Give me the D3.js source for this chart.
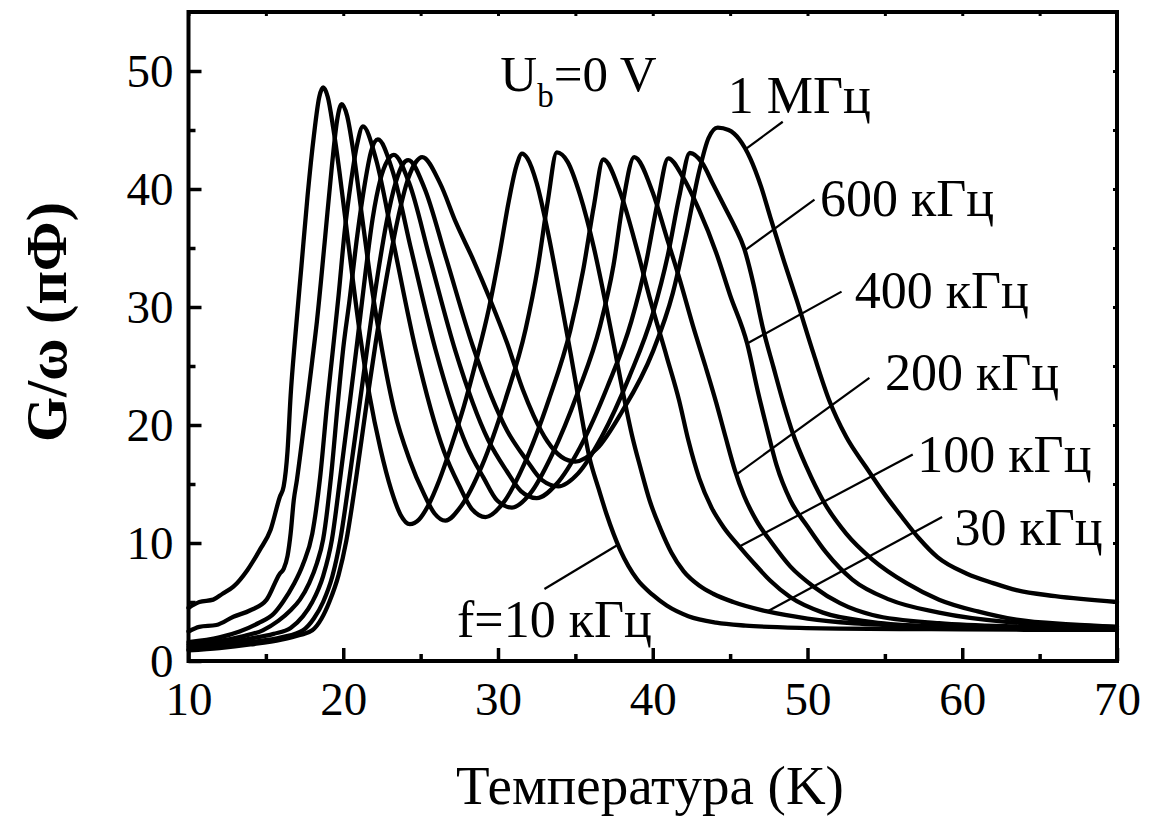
<!DOCTYPE html>
<html><head><meta charset="utf-8">
<script src="https://cdn.jsdelivr.net/npm/d3@7"></script>
<style>body{margin:0;background:#fff}svg{display:block}</style>
</head><body><svg id="c" width="1163" height="822"></svg>
<script>
// ---- data ----
const xDomain = [10, 70];
const yDomain = [0, 55];
const xMajor = [10, 20, 30, 40, 50, 60, 70];
const xMinor = [15, 25, 35, 45, 55, 65];
const yMajor = [0, 10, 20, 30, 40, 50];
const yMinor = [5, 15, 25, 35, 45];

const f10k = [[10,4.5],[10.7,5.0],[11.6,5.2],[12.2,5.7],[12.9,6.3],[13.8,7.7],[14.6,9.4],[15.3,11.1],[15.9,13.9],[16.15,14.8],[16.4,17.8],[16.6,22.5],[16.9,27.5],[17.3,33.5],[17.7,39.5],[18.1,44.5],[18.45,47.8],[18.7,48.6],[19.0,47.8],[19.35,45.2],[19.75,41.5],[20.15,37.3],[20.6,32.5],[21.1,27.5],[21.7,22.5],[22.4,18.0],[23.1,14.5],[23.7,12.4],[24.3,11.6],[24.9,12.0],[25.5,13.2],[26.2,15.3],[27,18.3],[27.8,21.6],[28.6,25.5],[29.4,29.8],[30.1,34.5],[30.7,39],[31.2,42],[31.55,43.0],[31.9,42.6],[32.5,40.5],[33.2,36.5],[34,31],[34.7,26],[35.3,21.5],[35.9,17.3],[36.5,14.6],[37.0,12.5],[37.9,9.4],[39.0,6.9],[40.0,5.6],[40.9,4.7],[42.3,3.8],[44.1,3.25],[46,3.0],[48.4,2.85],[52,2.75],[58,2.7],[64,2.65],[70,2.65]];
const f30k = [[10,2.5],[10.7,2.9],[11.8,3.05],[12.9,3.75],[14,4.3],[15.05,5.2],[15.9,7.4],[16.15,7.8],[16.4,8.9],[16.6,10.8],[16.8,13.6],[17.0,15.3],[17.4,19.3],[17.7,22.3],[18.0,25.5],[18.3,28.8],[18.8,35.5],[19.27,42],[19.6,45.8],[19.9,47.2],[20.25,46.2],[20.65,43.2],[21.2,37.8],[21.8,32.0],[22.5,26.4],[23.3,21.2],[24.3,17.0],[25.2,14.2],[25.9,12.5],[26.6,11.9],[27.6,13.1],[28.98,16.6],[30.49,22.2],[31.78,28.1],[32.58,33.4],[33.22,39.0],[33.8,43.1],[34.5,42.3],[35.3,39.5],[36.2,35],[37.0,30],[37.6,26],[38.1,22.6],[38.7,18.9],[39.2,16.4],[39.8,13.6],[40.5,11.2],[41.2,9.2],[42,7.6],[43,6.4],[43.9,5.7],[45.2,5.0],[47.4,4.2],[50,3.6],[53,3.2],[58,2.95],[64,2.8],[70,2.8]];
const f100k = [[10,1.6],[12,2.0],[13.3,2.5],[14.5,3.2],[15.5,4.0],[16.1,5.0],[16.8,6.5],[17.4,8.2],[18.0,10.8],[18.5,15.5],[18.96,21.8],[19.3,26],[19.7,31],[20.1,36.5],[20.5,40.6],[20.9,43.8],[21.27,45.3],[22.12,42.5],[23.25,35.4],[24.68,26.4],[26.5,17.8],[27.5,14.85],[28.3,12.9],[29.2,12.2],[30.34,13.4],[31.7,16.7],[33.3,22.2],[34.67,28.0],[35.5,33.1],[36.2,38.6],[36.8,42.5],[37.9,39.7],[39.0,34.8],[39.8,30.8],[40.9,25.8],[41.7,22.1],[42.3,18.7],[43.0,15.5],[43.8,13.0],[44.6,11.3],[45.6,9.7],[46.6,8.2],[47.6,6.8],[48.9,5.4],[51,4.1],[54.2,3.3],[58.5,2.9],[64,2.75],[70,2.7]];
const f200k = [[10,1.4],[12,1.7],[13.5,2.1],[14.8,2.6],[15.8,3.4],[16.6,4.3],[17.2,5.2],[17.8,6.6],[18.3,8.3],[18.7,10.3],[19.2,15.5],[19.66,22],[20.0,26.5],[20.4,30.5],[20.9,36],[21.4,40.5],[21.8,43.2],[22.24,44.2],[23.17,41.6],[24.4,34.8],[25.96,26.4],[27.96,18.3],[29.08,15.5],[29.95,13.6],[30.9,13.0],[32.09,14.2],[33.5,17.5],[35.17,22.8],[36.6,28.4],[37.46,33.5],[38.07,38.8],[38.8,42.7],[40.0,39.7],[40.9,35.9],[41.75,32.3],[42.6,28.4],[43.4,25.0],[44.1,21.9],[44.7,19],[45.3,16.2],[45.9,14],[46.7,11.9],[47.7,10],[48.9,8],[50.4,6.3],[52.1,4.9],[54.2,3.9],[58.5,3.2],[64,2.9],[70,2.75]];
const f400k = [[10,1.2],[12,1.5],[14,1.9],[15.5,2.3],[16.6,2.8],[17.4,3.8],[18.0,5.0],[18.7,7.2],[19.27,10.3],[19.8,15.5],[20.43,22],[20.9,27],[21.4,32.5],[21.9,37.5],[22.4,40.8],[22.85,42.4],[23.27,42.9],[24.26,40.5],[25.58,34.2],[27.24,26.3],[29.36,18.75],[30.56,16.1],[31.48,14.4],[32.5,13.8],[33.78,15.0],[35.3,18.1],[37.09,23.3],[38.62,28.8],[39.56,33.7],[40.32,38.9],[41.0,42.6],[41.95,41],[43.0,38.2],[44.1,34.6],[45.0,31.0],[46.1,26.9],[46.8,22.8],[47.4,19.6],[48.0,16.6],[48.9,13.6],[50.0,11.4],[51.2,9.2],[52.9,6.9],[55.3,5.2],[58.5,4.1],[63,3.3],[70,2.9]];
const f600k = [[10,1.0],[12,1.3],[14,1.6],[16,2.0],[17.4,2.6],[18.1,3.6],[18.7,5.0],[19.3,7.2],[19.8,10.2],[20.4,15.5],[21.08,22],[21.6,27],[22.2,32.5],[22.8,37.2],[23.4,40.6],[23.85,42.1],[24.2,42.45],[25.24,40.1],[26.63,34.2],[28.37,26.7],[30.6,19.5],[31.86,17.0],[32.83,15.35],[33.9,14.8],[35.18,15.9],[36.7,19.0],[38.49,24.1],[40.02,29.5],[40.96,34.3],[41.72,39.4],[42.4,43.05],[43.2,42.2],[43.9,40.4],[44.6,38.6],[45.3,36.8],[45.9,35.0],[46.5,32],[47.1,28.3],[47.8,24.9],[48.5,21.6],[49.05,19.3],[49.95,16.4],[51.0,13.6],[52.5,10.8],[54.2,8.6],[56.4,6.6],[58.5,5.2],[61,4.2],[63.5,3.5],[67,3.1],[70,2.9]];
const f1M = [[10,0.9],[12,1.1],[14,1.4],[16,1.8],[17.2,2.2],[18.0,2.6],[18.6,3.6],[19.1,5.0],[19.7,7.3],[20.2,10.2],[20.8,15.2],[21.53,22],[22.1,27],[22.8,32.5],[23.5,37.3],[24.2,40.9],[24.7,42.3],[25.1,42.7],[26.25,40.5],[27.3,37.1],[28.4,34],[29.5,30.6],[30.6,26.9],[31.6,23],[32.3,20.8],[33.2,18.6],[34.1,17.3],[35.0,16.9],[36.4,18.0],[38.0,21.1],[40.0,26.2],[41.3,31.2],[42.2,36.4],[43.0,41.5],[43.6,44.3],[44.2,45.2],[44.9,45.0],[45.6,44.2],[46.3,42.6],[47.0,40.2],[47.6,37.6],[48.5,33.8],[49.3,30.6],[50.4,26],[51.4,22.1],[52.5,19],[53.8,16.4],[55,14.1],[56.1,12.2],[57.2,10.4],[58.4,8.8],[60.3,7.4],[62,6.6],[63.5,6.0],[66,5.5],[70,5.0]];

const series = [f10k, f30k, f100k, f200k, f400k, f600k, f1M];
const labelTexts = ["f=10 кГц", "30 кГц", "100 кГц", "200 кГц", "400 кГц", "600 кГц", "1 МГц"];
const labelPos = [[27.35,2.0],[59.5,9.8],[57.1,16.0],[55.0,23.0],[53.05,29.9],[50.8,37.7],[44.85,46.4]];
const leaderFromT = [37.75, 47.4, 45.6, 45.4, 46.1, 45.95, 46.0];
const leaderTo = [[33.0,6.1],[58.7,12.2],[56.8,17.5],[54.0,24.0],[52.2,31.3],[50.45,39.1],[48.4,45.7]];
const biasPos = [30.15, 48.3];
const xTitle = "Температура (K)";
const yTitle = "G/ω (пФ)";

// ---- drawing ----
const FONT = "'Liberation Serif','Times New Roman',serif";
const svg = d3.select("#c");
svg.append("rect").attr("width",1163).attr("height",822).attr("fill","#fff");

const x = d3.scaleLinear().domain(xDomain).range([188.5, 1117]);
const y = d3.scaleLinear().domain(yDomain).range([661, 12]);

const line = d3.line().x(d => x(d[0])).y(d => y(d[1])).curve(d3.curveMonotoneX);

const gCurves = svg.append("g");
const paths = series.map(s => gCurves.append("path").datum(s)
  .attr("d", line).attr("fill","none").attr("stroke","#000")
  .attr("stroke-width",4.3).attr("stroke-linejoin","round").attr("stroke-linecap","round").node());

function pointAtX(node, px){
  let lo = 0, hi = node.getTotalLength();
  for (let i=0;i<40;i++){ const m=(lo+hi)/2; if (node.getPointAtLength(m).x < px) lo=m; else hi=m; }
  return node.getPointAtLength((lo+hi)/2);
}

function styleAxis(g, w){
  g.select(".domain").remove();
  g.selectAll(".tick line").attr("stroke","#000").attr("stroke-width",w);
  g.selectAll(".tick text").attr("font-family",FONT).attr("font-size",47).attr("fill","#000");
}
// bottom
svg.append("g").attr("transform","translate(0,661)")
  .call(d3.axisBottom(x).tickValues(xMajor).tickSize(-13).tickPadding(21).tickFormat(d3.format("d")))
  .call(g=>styleAxis(g,3.5));
svg.append("g").attr("transform","translate(0,661)")
  .call(d3.axisBottom(x).tickValues(xMinor).tickSize(-7).tickFormat(""))
  .call(g=>styleAxis(g,3.5));
// left
svg.append("g").attr("transform","translate(188.5,0)")
  .call(d3.axisLeft(y).tickValues(yMajor).tickSize(-13).tickPadding(15).tickFormat(d3.format("d")))
  .call(g=>styleAxis(g,3.5));
svg.append("g").attr("transform","translate(188.5,0)")
  .call(d3.axisLeft(y).tickValues(yMinor).tickSize(-7).tickFormat(""))
  .call(g=>styleAxis(g,3.5));
// top / right (short mirrored ticks)
svg.append("g").attr("transform","translate(0,12)")
  .call(d3.axisTop(x).tickValues(xMajor.concat(xMinor)).tickSize(-4).tickFormat(""))
  .call(g=>styleAxis(g,3));
svg.append("g").attr("transform","translate(1117,0)")
  .call(d3.axisRight(y).tickValues(yMajor.concat(yMinor)).tickSize(-4).tickFormat(""))
  .call(g=>styleAxis(g,3));
// frame
svg.append("rect").attr("x",188.5).attr("y",12).attr("width",1117-188.5).attr("height",649)
  .attr("fill","none").attr("stroke","#000").attr("stroke-width",4);

// axis titles
svg.append("text").attr("x",650).attr("y",804).attr("text-anchor","middle")
  .attr("font-family",FONT).attr("font-size",55).text(xTitle);
svg.append("text").attr("transform","translate(66,322) rotate(-90)").attr("text-anchor","middle")
  .attr("font-family",FONT).attr("font-size",58).attr("font-weight","bold").text(yTitle);

// leaders and labels
const gAnn = svg.append("g");
series.forEach((s,i)=>{
  const p = pointAtX(paths[i], x(leaderFromT[i]));
  gAnn.append("line").attr("x1",p.x).attr("y1",p.y)
    .attr("x2",x(leaderTo[i][0])).attr("y2",y(leaderTo[i][1]))
    .attr("stroke","#000").attr("stroke-width",2.2);
  gAnn.append("text").attr("x",x(labelPos[i][0])).attr("y",y(labelPos[i][1]))
    .attr("font-family",FONT).attr("font-size",52).text(labelTexts[i]);
});
const ub = gAnn.append("text").attr("x",x(biasPos[0])).attr("y",y(biasPos[1]))
  .attr("font-family",FONT).attr("font-size",51);
ub.append("tspan").text("U");
ub.append("tspan").attr("font-size",33).attr("dy",16).text("b");
ub.append("tspan").attr("dy",-16).text("=0 V");
</script></body></html>
